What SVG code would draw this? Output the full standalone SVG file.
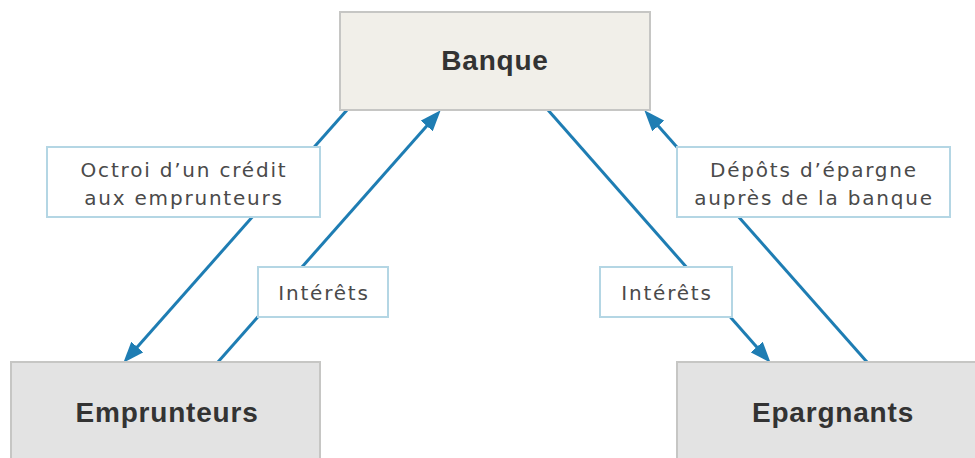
<svg xmlns="http://www.w3.org/2000/svg" width="975" height="458" viewBox="0 0 975 458">
  <style>
    .node { stroke: #c6c6c4; stroke-width: 2; }
    .top { fill: #f1efe9; }
    .bottom { fill: #e3e3e3; }
    .ntext { font-family: "Liberation Sans", Arial, sans-serif; font-weight: bold; font-size: 28px; letter-spacing: 0.8px; fill: #333333; text-anchor: middle; }
    .conn { stroke: #1e7db3; stroke-width: 3; fill: none; marker-end: url(#arrow); }
    .lbox { fill: #ffffff; stroke: #b4d6e4; stroke-width: 2; }
    .ltext { font-family: "DejaVu Sans", "Liberation Sans", sans-serif; font-size: 20px; letter-spacing: 1.8px; fill: #4a4a4a; text-anchor: middle; }
  </style>
  <defs>
    <marker id="arrow" markerUnits="userSpaceOnUse" markerWidth="21" markerHeight="16" refX="6" refY="8" orient="auto">
      <path d="M0,0 L21,8 L0,16 z" fill="#1e7db3"/>
    </marker>
  </defs>
  <rect x="0" y="0" width="975" height="458" fill="#ffffff"/>

  <g id="connectors">
    <line class="conn" x1="347" y1="110" x2="133.3" y2="351.5"/>
    <line class="conn" x1="218" y1="362" x2="430.7" y2="121.5"/>
    <line class="conn" x1="548" y1="110" x2="760.7" y2="351.5"/>
    <line class="conn" x1="867" y1="362" x2="654.3" y2="121.5"/>
  </g>

  <g id="label-octroi">
    <rect class="lbox" x="47" y="147" width="273" height="70"/>
    <text class="ltext" x="184" y="177">Octroi d’un crédit</text>
    <text class="ltext" x="184" y="205">aux emprunteurs</text>
  </g>
  <g id="label-interets-left">
    <rect class="lbox" x="258" y="267" width="130" height="50"/>
    <text class="ltext" x="324" y="300">Intérêts</text>
  </g>
  <g id="label-interets-right">
    <rect class="lbox" x="600" y="267" width="132" height="50"/>
    <text class="ltext" x="667" y="300">Intérêts</text>
  </g>
  <g id="label-depots">
    <rect class="lbox" x="677" y="147" width="273" height="70"/>
    <text class="ltext" x="814" y="177">Dépôts d’épargne</text>
    <text class="ltext" x="814" y="205">auprès de la banque</text>
  </g>

  <g id="node-banque">
    <rect class="node top" x="340" y="12" width="310" height="98"/>
    <text class="ntext" x="495" y="70">Banque</text>
  </g>
  <g id="node-emprunteurs">
    <rect class="node bottom" x="11" y="362" width="309" height="110"/>
    <text class="ntext" x="167" y="422">Emprunteurs</text>
  </g>
  <g id="node-epargnants">
    <rect class="node bottom" x="677" y="362" width="310" height="110"/>
    <text class="ntext" x="833" y="422">Epargnants</text>
  </g>
</svg>
